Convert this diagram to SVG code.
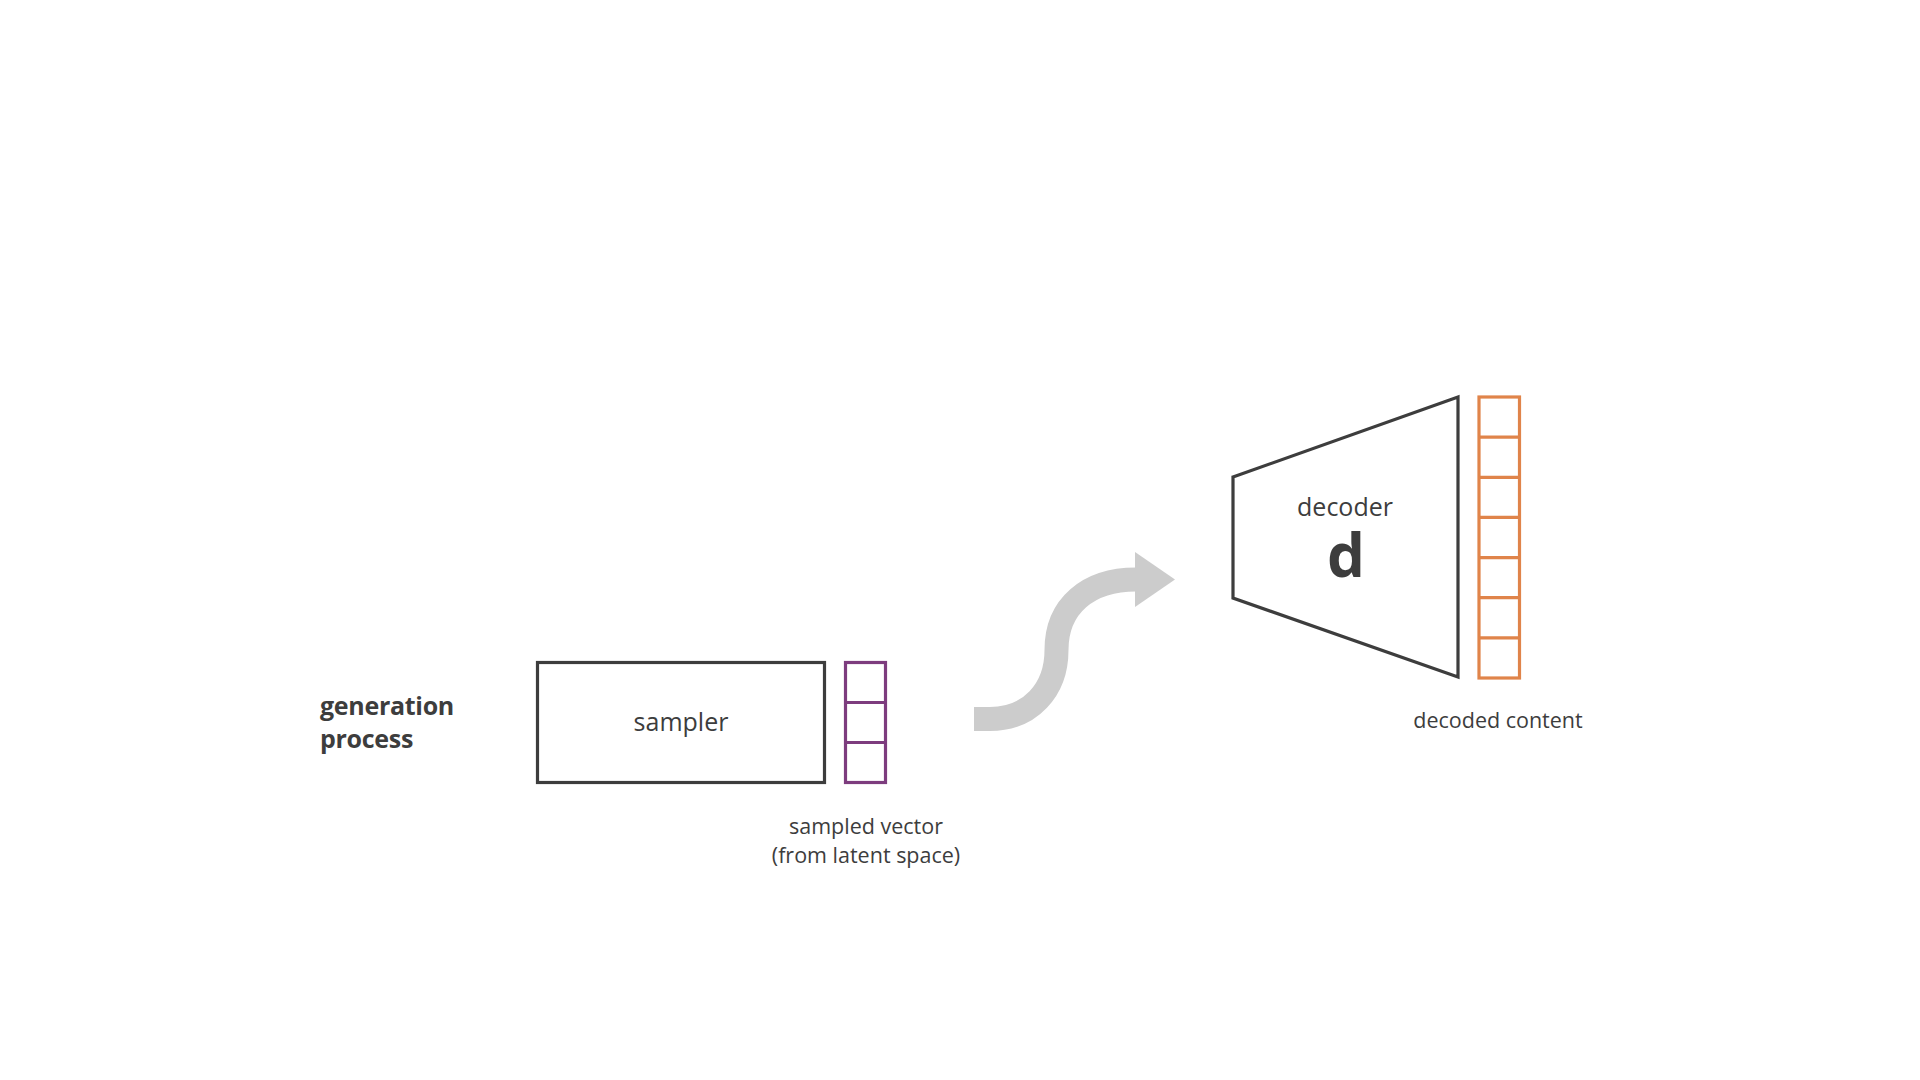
<svg xmlns="http://www.w3.org/2000/svg" width="1920" height="1080" viewBox="0 0 1920 1080">
<style>
.lbl{font-family:"Open Sans","Liberation Sans",sans-serif;fill:#3d3d3d}
.box{fill:#fff;stroke:#3d3d3d;stroke-width:3.2}
.pv{fill:none;stroke:#7d3c7e;stroke-width:3.2}
.ov{fill:none;stroke:#e0844a;stroke-width:3.2}
</style>
<rect width="1920" height="1080" fill="#fff"/>
<g id="title">
<text class="lbl" x="320" y="715" font-size="25" font-weight="bold" letter-spacing="-0.3">generation</text>
<text class="lbl" x="320" y="748" font-size="25" font-weight="bold" letter-spacing="-0.3">process</text>
</g>
<g id="sampler">
<rect class="box" x="537.5" y="662.5" width="287" height="120"/>
<text class="lbl" x="681" y="731" font-size="25" text-anchor="middle">sampler</text>
</g>
<g id="sampled-vector">
<rect class="pv" x="845.5" y="662.5" width="40" height="120"/>
<line class="pv" x1="845.5" y1="702.5" x2="885.5" y2="702.5"/>
<line class="pv" x1="845.5" y1="742.5" x2="885.5" y2="742.5"/>
<text class="lbl" x="866" y="834" font-size="21.5" text-anchor="middle">sampled vector</text>
<text class="lbl" x="866" y="863" font-size="21.5" text-anchor="middle">(from latent space)</text>
</g>
<g id="connectors">
<path d="M974,719 L990,719 C1030,719 1056.5,690 1056.5,650 C1056.5,606 1088,579.5 1136,579.5" fill="none" stroke="#cccccc" stroke-width="24"/>
<polygon points="1135,552 1175,579.5 1135,607" fill="#cccccc"/>
</g>
<g id="decoder">
<polygon class="box" points="1233,477 1458,397 1458,677 1233,598"/>
<text class="lbl" x="1345" y="516" font-size="25" text-anchor="middle">decoder</text>
<text class="lbl" x="1346" y="577" font-size="60" font-weight="bold" text-anchor="middle">d</text>
</g>
<g id="decoded-content">
<rect class="ov" x="1479" y="397" width="40.5" height="281"/>
<line class="ov" x1="1479" y1="437.1" x2="1519.5" y2="437.1"/>
<line class="ov" x1="1479" y1="477.3" x2="1519.5" y2="477.3"/>
<line class="ov" x1="1479" y1="517.4" x2="1519.5" y2="517.4"/>
<line class="ov" x1="1479" y1="557.6" x2="1519.5" y2="557.6"/>
<line class="ov" x1="1479" y1="597.7" x2="1519.5" y2="597.7"/>
<line class="ov" x1="1479" y1="637.9" x2="1519.5" y2="637.9"/>
<text class="lbl" x="1498" y="728" font-size="21.5" text-anchor="middle">decoded content</text>
</g>
</svg>
